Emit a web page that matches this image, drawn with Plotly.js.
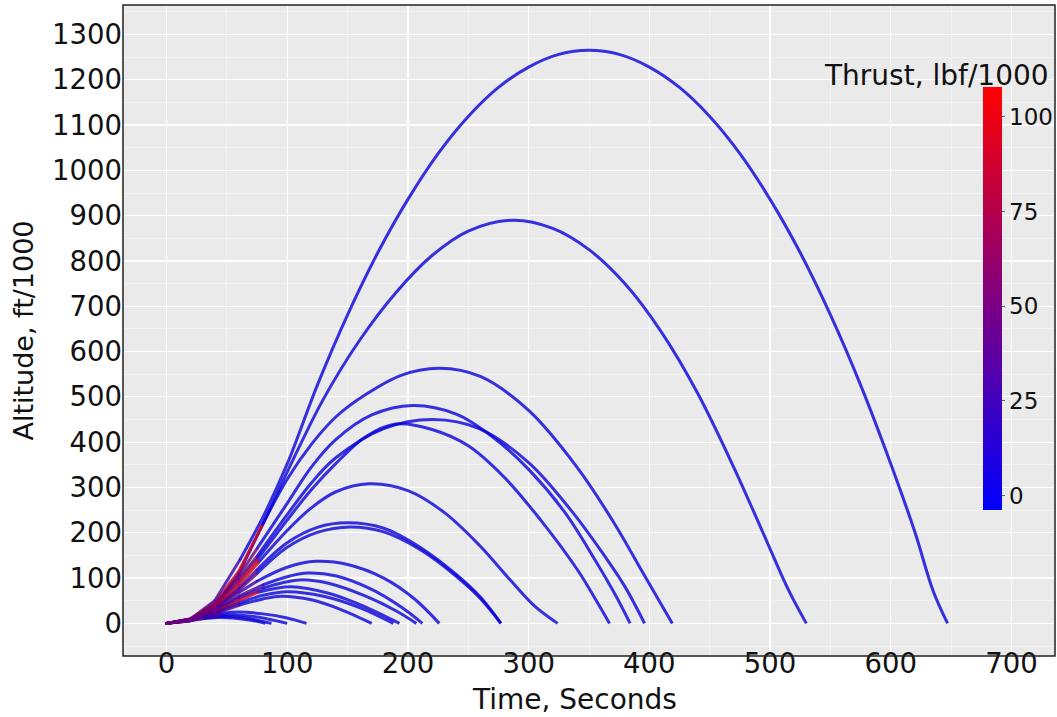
<!DOCTYPE html>
<html><head><meta charset="utf-8">
<script src="https://cdn.plot.ly/plotly-3.0.1.min.js"></script>
<style>html,body{margin:0;padding:0;background:#fff}#chart{width:1057px;height:717px}</style>
</head><body><div id="chart"></div>
<script>
// ---- Data (time s, altitude kft, thrust klbf) ----
const time1 = [0,20,40,61,80,100,125,150,175,200,225,250,275,300,325,350,375,400,425,450,475,500,525,550,575,600,620,635,647];
const alt1  = [0,10,50,141,235,352,526,681,818,936,1037,1119,1183,1228,1256,1265,1256,1228,1183,1119,1037,936,818,681,526,352,201,72,0];
const thrust1 = [45,38,28,14,0,0,0,0,0,0,0,0,0,0,0,0,0,0,0,0,0,0,0,0,0,0,0,0,0];

const time2 = [0,20,40,60,80,105,130,160,190,220,250,287,320,350,380,410,440,470,495,515,530];
const alt2  = [0,8,36,110,220,362,495,625,730,812,866,890,872,825,749,643,508,344,195,75,0];
const thrust2 = [45,36,26,14,0,0,0,0,0,0,0,0,0,0,0,0,0,0,0,0,0];

const time3 = [0,20,40,60,79,100,120,140,165,195,226,260,300,340,370,395,419];
const alt3  = [0,10,45,115,215,318,395,455,505,548,563,545,470,345,225,110,0];
const thrust3 = [50,62,78,92,104,0,0,0,0,0,0,0,0,0,0,0,0];

const time4 = [0,20,40,60,75,100,120,140,170,204,240,270,300,330,355,372,384];
const alt4  = [0,10,42,105,165,265,345,405,460,481,462,412,340,245,140,62,0];
const thrust4 = [50,52,55,52,45,0,0,0,0,0,0,0,0,0,0,0,0];

const time5 = [0,20,40,60,75,100,120,140,180,221,259,300,335,360,380,396];
const alt5  = [0,9,40,98,148,240,310,365,430,450,430,355,250,160,80,0];
const thrust5 = [48,46,42,38,32,0,0,0,0,0,0,0,0,0,0,0];

const time6 = [0,20,40,60,75,100,120,140,165,190,220,250,280,310,340,355,367];
const alt6  = [0,9,38,92,140,228,295,352,412,440,428,392,322,228,120,55,0];
const thrust6 = [48,52,60,68,76,0,0,0,0,0,0,0,0,0,0,0,0];

const time7 = [0,20,40,60,76,100,120,140,168,200,230,259,285,305,324];
const alt7  = [0,9,36,85,134,205,255,290,308,293,245,173,95,38,0];
const thrust7 = [50,62,78,92,102,0,0,0,0,0,0,0,0,0,0];

const time8 = [0,20,40,60,75,100,125,150,180,210,240,260,277];
const alt8  = [0,8,33,78,118,178,212,222,210,168,108,58,0];
const thrust8 = [48,45,40,35,30,0,0,0,0,0,0,0,0];

const time9 = [0,20,40,60,75,100,125,152,180,210,240,260,277];
const alt9  = [0,8,32,74,110,168,201,213,202,163,104,55,0];
const thrust9 = [48,46,44,42,38,0,0,0,0,0,0,0,0];

const time10 = [0,20,40,60,75,100,124,150,180,205,226];
const alt10  = [0,7,30,68,93,124,137,130,100,55,0];
const thrust10 = [48,44,38,30,22,0,0,0,0,0,0];

const time11 = [0,20,40,60,80,100,117,140,170,195,212];
const alt11  = [0,7,28,60,85,103,111,105,75,35,0];
const thrust11 = [47,43,37,30,22,0,0,0,0,0,0];

const time12 = [0,20,40,60,80,110,135,165,190,207];
const alt12  = [0,7,27,56,78,96,88,60,28,0];
const thrust12 = [47,42,36,28,20,0,0,0,0,0];

const time13 = [0,20,40,60,75,103,135,165,193];
const alt13  = [0,6,25,50,68,81,66,36,0];
const thrust13 = [50,60,72,85,95,0,0,0,0];

const time14 = [0,20,40,60,80,100,130,160,188];
const alt14  = [0,6,23,45,62,70,60,35,0];
const thrust14 = [47,42,35,27,0,0,0,0,0];

const time15 = [0,20,40,60,80,95,120,145,170];
const alt15  = [0,6,21,40,54,60,52,30,0];
const thrust15 = [47,42,35,27,0,0,0,0,0];

const time16 = [0,15,30,45,60,80,100,116];
const alt16  = [0,6,15,22,25,21,12,0];
const thrust16 = [50,42,33,22,0,0,0,0];

const time17 = [0,15,30,45,55,70,85,100];
const alt17  = [0,5,13,18,19,16,9,0];
const thrust17 = [50,42,33,22,0,0,0,0];

const time18 = [0,15,30,45,55,70,87];
const alt18  = [0,5,11,15,15,10,0];
const thrust18 = [50,42,33,0,0,0,0];

const time19 = [0,15,30,42,55,70,82];
const alt19  = [0,4,10,13,12,7,0];
const thrust19 = [50,42,33,0,0,0,0];

const trajectories = [
  [time1,alt1,thrust1],[time2,alt2,thrust2],[time3,alt3,thrust3],[time4,alt4,thrust4],
  [time5,alt5,thrust5],[time6,alt6,thrust6],[time7,alt7,thrust7],[time8,alt8,thrust8],
  [time9,alt9,thrust9],[time10,alt10,thrust10],[time11,alt11,thrust11],[time12,alt12,thrust12],
  [time13,alt13,thrust13],[time14,alt14,thrust14],[time15,alt15,thrust15],[time16,alt16,thrust16],
  [time17,alt17,thrust17],[time18,alt18,thrust18],[time19,alt19,thrust19]
];

const colorTicks = [0,25,50,75,100];
const xTicks = [0,100,200,300,400,500,600,700];
const yTicks = [0,100,200,300,400,500,600,700,800,900,1000,1100,1200,1300];

// ---- colour scale ----
const CMIN = -3.8, CMAX = 107.9;
const scale = [[0,'rgb(0,0,255)'],[1,'rgb(255,0,0)']];
function thrustColor(v){
  const f = Math.max(0, Math.min(1, (v - CMIN) / (CMAX - CMIN)));
  // slightly deeper shade, as the line strokes appear in the picture
  return 'rgb(' + Math.round(235*f) + ',0,' + Math.round(225*(1-f)) + ')';
}

const coastTraces = [], burnTraces = [];
const bx = [], by = [], bc = [];
trajectories.forEach(([t,h,f]) => {
  let b = 0;
  for (let i = 0; i < f.length; i++) if (f[i] > 0) b = i;
  coastTraces.push({
    type:'scatter', mode:'lines', x:t.slice(b), y:h.slice(b),
    line:{color:thrustColor(0), width:3, shape:'spline', smoothing:1},
    opacity:0.8, hoverinfo:'skip', showlegend:false
  });
  for (let i = 0; i < b; i++) {
    burnTraces.push({
      type:'scatter', mode:'lines', x:[t[i],t[i+1]], y:[h[i],h[i+1]],
      line:{color:thrustColor((f[i]+f[i+1])/2), width:3},
      opacity:0.8, hoverinfo:'skip', showlegend:false
    });
  }
  for (let i = 0; i <= b; i++) { bx.push(t[i]); by.push(h[i]); bc.push(f[i]); }
});

const scaleTrace = {
  type:'scatter', mode:'markers', x:bx, y:by, hoverinfo:'skip', showlegend:false,
  marker:{
    size:2.5, color:bc, colorscale:scale, cmin:CMIN, cmax:CMAX, opacity:0.8,
    showscale:true,
    colorbar:{
      x:(983-123)/932, xanchor:'left', xpad:0, xref:'paper',
      y:(656-298.5)/651, yanchor:'middle', ypad:0,
      lenmode:'pixels', len:423, thickness:19, thicknessmode:'pixels',
      outlinewidth:0, bgcolor:'rgba(0,0,0,0)',
      tickvals:colorTicks, ticktext:colorTicks.map(String),
      ticks:'outside', ticklen:3, tickcolor:'#666', tickwidth:1,
      tickfont:{family:'DejaVu Sans', size:23, color:'#111'}
    }
  }
};

const fontMain = 'DejaVu Sans, sans-serif';

const layout = {
  width:1057, height:717,
  margin:{l:123, r:2, t:5, b:61, pad:0},
  paper_bgcolor:'#ffffff', plot_bgcolor:'#eaeaea',
  showlegend:false,
  xaxis:{
    range:[-36,736], tickvals:xTicks, ticktext:xTicks.map(String),
    anchor:'free', position:0.017,
    showgrid:true, gridcolor:'#ffffff', gridwidth:1.2,
    minor:{dtick:50, tick0:0, showgrid:true, gridcolor:'#f3f3f3', gridwidth:1},
    zeroline:false, showline:false, ticks:'',
    tickfont:{family:fontMain, size:27.5, color:'#111'}
  },
  yaxis:{
    range:[-72,1365], tickvals:yTicks, ticktext:yTicks.map(String),
    showgrid:true, gridcolor:'#ffffff', gridwidth:1.2,
    minor:{dtick:50, tick0:0, showgrid:true, gridcolor:'#f3f3f3', gridwidth:1},
    zeroline:false, showline:false, ticks:'',
    tickfont:{family:fontMain, size:27.5, color:'#111'},
    title:{text:'Altitude, ft/1000', font:{family:fontMain, size:27, color:'#111'}, standoff:10}
  },
  shapes:[{
    type:'rect', xref:'paper', yref:'paper', x0:0, x1:1, y0:0, y1:1,
    line:{color:'#222', width:1.5}, fillcolor:'rgba(0,0,0,0)', layer:'above'
  }],
  annotations:[
    {
      text:'Thrust, lbf/1000', xref:'paper', yref:'paper',
      x:(1051-123)/932, xanchor:'right', y:(656-94)/651, yanchor:'bottom',
      showarrow:false, font:{family:fontMain, size:28, color:'#111'}
    },
    {
      text:'Time, Seconds', xref:'paper', yref:'paper',
      x:(574-123)/932, xanchor:'center', y:(656-718)/651, yanchor:'bottom',
      showarrow:false, font:{family:fontMain, size:28, color:'#111'}
    }
  ]
};

Plotly.newPlot('chart', coastTraces.concat(burnTraces, [scaleTrace]), layout, {displayModeBar:false, staticPlot:true});
</script></body></html>
